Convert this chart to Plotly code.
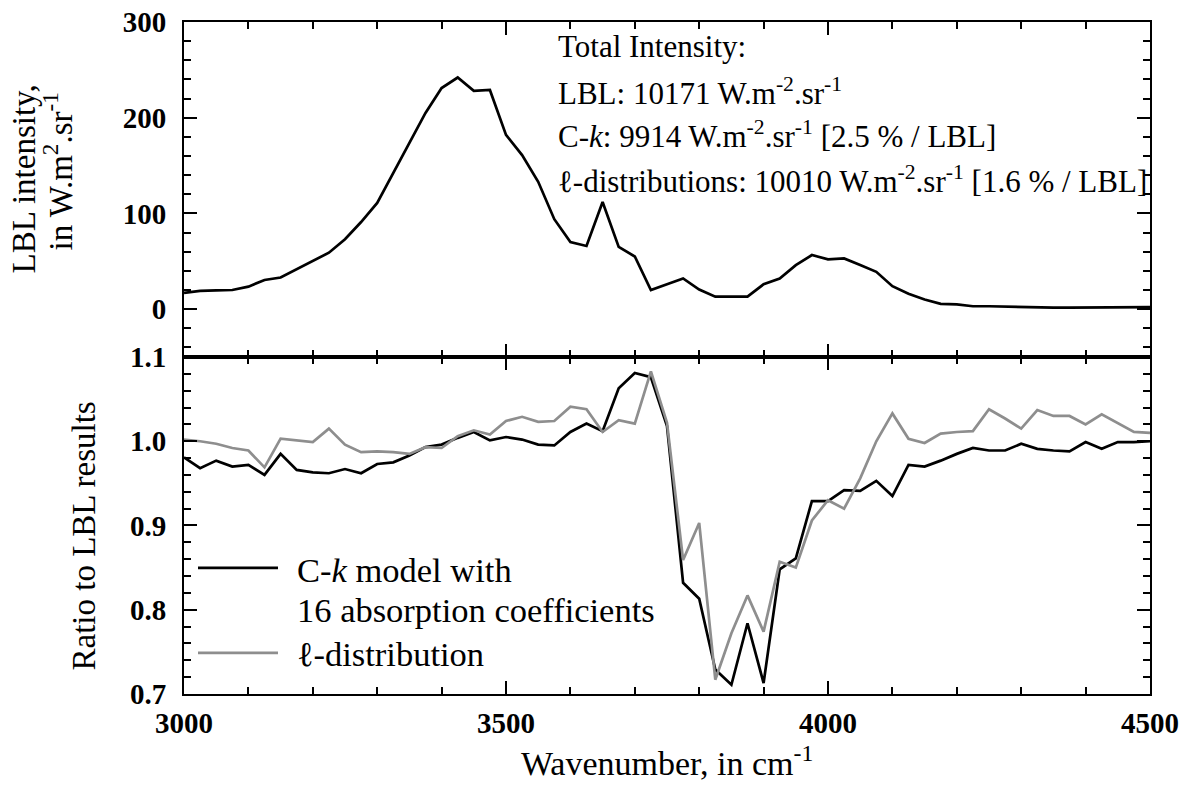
import plotly.graph_objects as go

wavenumber = [3000, 3025, 3050, 3075, 3100, 3125, 3150, 3175, 3200, 3225,
              3250, 3275, 3300, 3325, 3350, 3375, 3400, 3425, 3450, 3475,
              3500, 3525, 3550, 3575, 3600, 3625, 3650, 3675, 3700, 3725,
              3750, 3775, 3800, 3825, 3850, 3875, 3900, 3925, 3950, 3975,
              4000, 4025, 4050, 4075, 4100, 4125, 4150, 4175, 4200, 4225,
              4250, 4275, 4300, 4325, 4350, 4375, 4400, 4425, 4450, 4475, 4500]

lbl_intensity = [17, 19, 19.5, 20, 23.5, 30.5, 33, 41.5, 50, 59,
                 73, 91, 111, 142, 174, 205, 231, 242, 228, 229,
                 182, 161, 133, 94, 70, 66, 112, 65, 55, 20,
                 26, 32, 20.5, 13, 13, 13, 26, 32, 46, 56.5,
                 52, 53, 46, 39, 24, 16, 10, 5.5, 5, 3,
                 3, 2.5, 2, 1.8, 1.6, 1.5, 1.5, 1.5, 1.5, 1.5, 2]

ratio_ck = [0.981, 0.968, 0.977, 0.970, 0.972, 0.960, 0.985, 0.966, 0.963, 0.962,
            0.967, 0.962, 0.973, 0.975, 0.983, 0.993, 0.996, 1.004, 1.011, 1.001,
            1.005, 1.002, 0.996, 0.995, 1.011, 1.021, 1.012, 1.063, 1.081, 1.076,
            1.018, 0.832, 0.813, 0.729, 0.711, 0.784, 0.713, 0.848, 0.861, 0.929,
            0.929, 0.942, 0.941, 0.953, 0.935, 0.972, 0.970, 0.977, 0.985, 0.992,
            0.989, 0.989, 0.997, 0.991, 0.989, 0.988, 0.999, 0.991, 0.999, 0.999, 1.000]

ratio_ldist = [1.002, 1.000, 0.997, 0.992, 0.989, 0.969, 1.003, 1.001, 0.999, 1.015,
               0.996, 0.987, 0.988, 0.987, 0.985, 0.993, 0.992, 1.006, 1.013, 1.008,
               1.024, 1.029, 1.023, 1.024, 1.041, 1.038, 1.011, 1.025, 1.021, 1.083,
               1.022, 0.859, 0.903, 0.717, 0.772, 0.817, 0.774, 0.857, 0.850, 0.906,
               0.930, 0.920, 0.956, 1.000, 1.033, 1.003, 0.998, 1.009, 1.011, 1.012,
               1.038, 1.027, 1.015, 1.037, 1.030, 1.030, 1.020, 1.032, 1.022, 1.011, 1.010]

x_ticks = [3000, 3500, 4000, 4500]
top_ticks = [0, 100, 200, 300]
bottom_ticks = [0.7, 0.8, 0.9, 1.0, 1.1]

info_lines = [
    "Total Intensity:",
    "LBL: 10171 W.m<sup>-2</sup>.sr<sup>-1</sup>",
    "C-<i>k</i>: 9914 W.m<sup>-2</sup>.sr<sup>-1</sup> [2.5 % / LBL]",
    "\u2113-distributions: 10010 W.m<sup>-2</sup>.sr<sup>-1</sup> [1.6 % / LBL]",
]
legend_names = ["C-<i>k</i> model with<br>16 absorption coefficients", "\u2113-distribution"]
top_title_lines = ["LBL intensity,", "in W.m<sup>2</sup>.sr<sup>-1</sup>"]
bottom_title = "Ratio to LBL results"
x_title = "Wavenumber, in cm<sup>-1</sup>"

FONT = "Liberation Serif"
BLACK = "#000000"
GRAY = "#8e8e8e"
SPLIT = 0.5015

fig = go.Figure()
fig.add_trace(go.Scatter(x=wavenumber, y=lbl_intensity, mode="lines",
                         line=dict(color=BLACK, width=2.7), xaxis="x2", yaxis="y2",
                         showlegend=False))
fig.add_trace(go.Scatter(x=wavenumber, y=ratio_ck, mode="lines",
                         line=dict(color=BLACK, width=2.7), xaxis="x", yaxis="y",
                         showlegend=False))
fig.add_trace(go.Scatter(x=wavenumber, y=ratio_ldist, mode="lines",
                         line=dict(color=GRAY, width=2.7), xaxis="x", yaxis="y",
                         showlegend=False))

tickfont = dict(family=FONT, size=29, color="black", weight="bold")
common_axis = dict(showline=True, linewidth=2, linecolor="black", mirror="ticks",
                   ticks="inside", ticklen=13, tickwidth=2, tickcolor="black",
                   showgrid=False, zeroline=False, tickfont=tickfont, automargin=False,
                   ticklabeloverflow="allow")
minor_x = dict(dtick=100, ticks="inside", ticklen=7, tickwidth=2, tickcolor="black")

fig.update_layout(
    width=1189, height=789,
    margin=dict(l=184, r=39, t=22, b=95, autoexpand=False),
    paper_bgcolor="white", plot_bgcolor="white",
    font=dict(family=FONT, size=28, color="black"),
    xaxis=dict(domain=[0, 1], anchor="y", range=[3000, 4500], tickvals=x_ticks,
               minor=minor_x, ticklabelstandoff=2, **common_axis),
    xaxis2=dict(domain=[0, 1], anchor="y2", range=[3000, 4500], tickvals=x_ticks,
                matches="x", showticklabels=False, minor=minor_x, **common_axis),
    yaxis=dict(domain=[0, SPLIT], anchor="x", range=[0.7, 1.1], tickvals=bottom_ticks,
               tickformat=".1f",
               minor=dict(dtick=0.02, tick0=0.7, ticks="inside", ticklen=7, tickwidth=2, tickcolor="black"),
               ticklabelstandoff=10, **common_axis),
    yaxis2=dict(domain=[SPLIT, 1], anchor="x2", range=[-50, 300], tickvals=top_ticks,
                minor=dict(dtick=20, tick0=0, ticks="inside", ticklen=7, tickwidth=2, tickcolor="black"),
                ticklabelstandoff=10, **common_axis),
)

annotations = []
# info text in top panel
info_y = [0.928, 0.794, 0.663, 0.531]
for txt, yy in zip(info_lines, info_y):
    annotations.append(dict(text=txt, xref="x2 domain", yref="y2 domain", x=0.385, y=yy,
                            xanchor="left", yanchor="middle", showarrow=False,
                            font=dict(family=FONT, size=31, color="black")))
# axis titles
for txt, xx, yy in zip(top_title_lines, [-0.166, -0.130], [0.532, 0.555]):
    annotations.append(dict(text=txt, xref="x2 domain", yref="y2 domain", x=xx, y=yy,
                            xanchor="center", yanchor="middle", textangle=-90, showarrow=False,
                            font=dict(family=FONT, size=33, color="black")))
annotations.append(dict(text=bottom_title,
                        xref="x domain", yref="y domain", x=-0.104, y=0.469,
                        xanchor="center", yanchor="middle", textangle=-90, showarrow=False,
                        font=dict(family=FONT, size=33, color="black")))
annotations.append(dict(text=x_title,
                        xref="x domain", yref="y domain", x=0.5, y=-0.200,
                        xanchor="center", yanchor="middle", showarrow=False,
                        font=dict(family=FONT, size=34, color="black")))
# legend (drawn manually to match the long sample lines)
legend_line_y = [0.374, 0.122]
legend_text_y = [[0.368, 0.249], [0.119]]
legend_colors = [BLACK, GRAY]
shapes = []
for name, ly, tys, col in zip(legend_names, legend_line_y, legend_text_y, legend_colors):
    shapes.append(dict(type="line", xref="x domain", yref="y domain",
                       x0=0.0145, x1=0.0973, y0=ly, y1=ly,
                       line=dict(color=col, width=2.7)))
    for part, ty in zip(name.split("<br>"), tys):
        annotations.append(dict(text=part, xref="x domain", yref="y domain", x=0.1149, y=ty,
                                xanchor="left", yanchor="middle", align="left", showarrow=False,
                                font=dict(family=FONT, size=34.5, color="black")))

fig.update_layout(annotations=annotations, shapes=shapes)
# remove the browser's default 8px body margin so the figure fills the window exactly
fig.write_html("out.html", config={"displayModeBar": False},
               post_script="document.body.style.margin='0';document.body.style.overflow='hidden';")
